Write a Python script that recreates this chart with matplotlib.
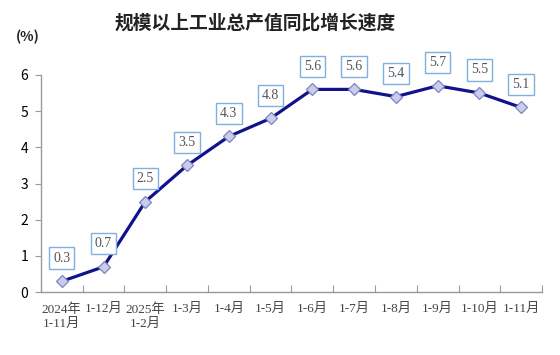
import matplotlib
matplotlib.use("Agg")
import matplotlib.pyplot as plt

# 规模以上工业总产值同比增长速度 (%)
categories = ["2024年\n1-11月", "1-12月", "2025年\n1-2月", "1-3月", "1-4月", "1-5月",
              "1-6月", "1-7月", "1-8月", "1-9月", "1-10月", "1-11月"]
values = [0.3, 0.7, 2.5, 3.5, 4.3, 4.8, 5.6, 5.6, 5.4, 5.7, 5.5, 5.1]
yticks = [0, 1, 2, 3, 4, 5, 6]

cjk = ['Noto Sans CJK SC', 'DejaVu Sans']
serif_cjk = ['Liberation Serif', 'Noto Sans CJK SC']
plt.rcParams['font.family'] = cjk

fig = plt.figure(figsize=(5.6, 3.55), dpi=100)
ax = fig.add_axes([0.073, 0.177, 0.895, 0.612])

x = list(range(len(values)))
ax.plot(x, values, color="#12128a", lw=2.3, marker="D", ms=6.5,
        mfc="#c9cdea", mec="#7c84c2", mew=0.9, zorder=3)

for xi, v in zip(x, values):
    ax.annotate("{:.1f}".format(v), (xi, v), xytext=(0, 12), textcoords="offset points",
                ha="center", va="bottom", fontsize=10, color="#555555", family=serif_cjk,
                bbox=dict(boxstyle="square,pad=0.3", fc="white", ec="#7fb0e0", lw=1))

ax.set_xlim(-0.5, len(values) - 0.5)
ax.set_ylim(0, 6)
ax.set_yticks(yticks)
ax.set_yticklabels([str(t) for t in yticks], fontsize=10)
ax.set_xticks([i - 0.5 for i in range(len(values) + 1)])
ax.set_xticklabels([])
ax.set_xticks(x, minor=True)
ax.set_xticklabels(categories, minor=True, fontsize=9.5, family=serif_cjk, color="#444444",
                   linespacing=1.25, va="top")
ax.tick_params(axis="x", which="major", direction="in", length=5, color="#999999")
ax.tick_params(axis="x", which="minor", length=0, pad=8)
ax.tick_params(axis="y", direction="out", length=4, color="#999999", pad=5)

for s in ["top", "right"]:
    ax.spines[s].set_visible(False)
for s in ["left", "bottom"]:
    ax.spines[s].set_color("#999999")
    ax.spines[s].set_linewidth(1)

fig.text(0.455, 0.935, "规模以上工业总产值同比增长速度", ha="center", va="center",
         fontsize=13.5, fontweight="bold", color="#222222")
fig.text(0.028, 0.895, "(%)", ha="left", va="center", fontsize=10, fontweight="bold",
         color="#222222")

fig.savefig("out.png", dpi=100)
